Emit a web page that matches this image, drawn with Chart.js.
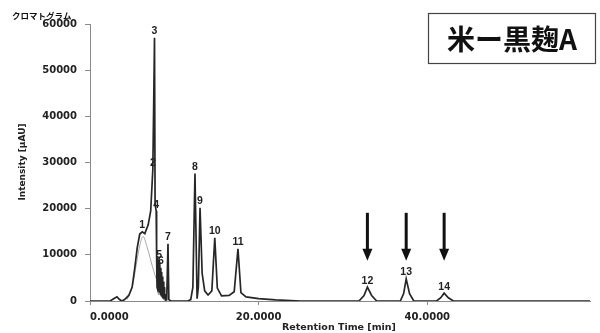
<!DOCTYPE html>
<html>
<head>
<meta charset="utf-8">
<script src="https://cdn.jsdelivr.net/npm/chart.js@4.4.1/dist/chart.umd.min.js"></script>
<style>
  html, body { margin: 0; padding: 0; background: #fff; }
  #wrap { width: 600px; height: 333px; }
</style>
</head>
<body>
<div id="wrap"><canvas id="chromChart" width="600" height="333"></canvas></div>
<script>
// Chromatogram trace: retention time (min) and intensity (uAU)
const retentionTimes = [0, 2.4, 2.8, 3.2, 3.5, 3.8, 4.1, 4.6, 5.0, 5.3, 5.6, 5.9, 6.2, 6.5, 6.9, 7.2,
    7.45, 7.55, 7.65, 7.72, 7.85, 7.9, 7.95, 8.0, 8.05, 8.1, 8.15, 8.2, 8.25, 8.3, 8.35, 8.4, 8.45,
    8.5, 8.55, 8.6, 8.65, 8.7, 8.75, 8.8, 8.85, 8.9, 8.95, 9.1, 9.25, 9.35, 9.6, 11.6, 11.95, 12.2,
    12.45, 12.7, 12.85, 13.05, 13.3, 13.6, 14.0, 14.45, 14.8, 15.1, 15.6, 16.5, 17.1, 17.55, 17.9,
    18.5, 20.0, 22.0, 25.0, 31.9, 32.5, 32.9, 33.4, 34.0, 36.8, 37.2, 37.5, 37.9, 38.4, 41.1, 41.6,
    42.0, 42.5, 43.1, 59.3];
const intensities = [0, 0, 500, 900, 300, 0, 300, 1200, 3000, 7000, 11500, 14500, 15000, 14600, 16500, 19500,
    28500, 42000, 57000, 21000, 19500, 10000, 3000, 9500, 2500, 9000, 2000, 8500, 1800, 8000, 1500, 7200, 1200,
    6300, 1000, 5300, 800, 4200, 600, 3000, 400, 1500, 200, 300, 12400, 300, 0, 0, 300, 3000,
    27600, 500, 3000, 20200, 6000, 2200, 1300, 2200, 13700, 2800, 1100, 1200, 2000, 11300, 1800,
    900, 500, 250, 0, 0, 1200, 3000, 1200, 0, 0, 1600, 4800, 1600, 0, 0, 700,
    1700, 700, 0, 0];

// Fitted curve under peak 1 (light grey)
const fitTimes = [4.4, 5.0, 5.5, 5.9, 6.3, 6.8, 7.4, 8.0, 8.5, 8.9, 9.2];
const fitIntensities = [300, 3000, 8000, 12000, 14000, 11500, 7500, 4000, 1500, 300, 0];

// Numbered peaks
const peakNumbers = ['1', '2', '3', '4', '5', '6', '7', '8', '9', '10', '11', '12', '13', '14'];
const peakTimes = [6.2, 7.45, 7.65, 7.85, 8.2, 8.4, 9.25, 12.45, 13.05, 14.8, 17.55, 32.9, 37.5, 42.0];

// Arrows pointing at the marked peaks
const arrowTimes = [32.9, 37.5, 42.0];

// Axis ticks
const xTickValues = [0, 20, 40];
const yTickValues = [0, 10000, 20000, 30000, 40000, 50000, 60000];
const X_MAX = 59.3;

let chromChart;

function traceAt(t) {
    for (let i = 1; i < retentionTimes.length; i++) {
        if (t <= retentionTimes[i]) {
            const t0 = retentionTimes[i - 1], t1 = retentionTimes[i];
            const f = (t - t0) / (t1 - t0);
            return intensities[i - 1] + f * (intensities[i] - intensities[i - 1]);
        }
    }
    return 0;
}

const decorPlugin = {
    id: 'chromDecor',
    afterDatasetsDraw(chart) {
        const { ctx, scales: { x, y } } = chart;
        ctx.save();

        // peak numbers sit just above the trace
        ctx.font = 'bold 10.5px "Liberation Sans"';
        ctx.fillStyle = '#222';
        ctx.textAlign = 'center';
        ctx.textBaseline = 'bottom';
        peakNumbers.forEach((n, i) => {
            const t = peakTimes[i];
            ctx.fillText(n, x.getPixelForValue(t), y.getPixelForValue(traceAt(t)) - 1);
        });

        // arrows
        ctx.fillStyle = '#111';
        arrowTimes.forEach(t => {
            const px = x.getPixelForValue(t);
            const top = y.getPixelForValue(19100);
            const tip = y.getPixelForValue(8700);
            ctx.fillRect(px - 1.5, top, 3, tip - top - 10);
            ctx.beginPath();
            ctx.moveTo(px - 5, tip - 12);
            ctx.lineTo(px + 5, tip - 12);
            ctx.lineTo(px, tip);
            ctx.closePath();
            ctx.fill();
        });
        ctx.restore();
    },
    afterDraw(chart) {
        const ctx = chart.ctx;
        ctx.save();
        ctx.fillStyle = '#111';

        // top-left caption
        ctx.font = 'bold 8.5px "Noto Sans CJK JP"';
        ctx.textAlign = 'left';
        ctx.textBaseline = 'middle';
        ctx.fillText('クロマトグラム', 12, 16);

        // sample name box
        ctx.strokeStyle = '#444';
        ctx.lineWidth = 1.2;
        ctx.strokeRect(428.5, 13.5, 167, 50);
        ctx.font = 'bold 28px "Noto Sans CJK JP"';
        ctx.textAlign = 'center';
        ctx.fillText('米ー黒麹A', 512, 39);

        // axis titles
        ctx.font = 'bold 9.5px "DejaVu Sans"';
        ctx.fillStyle = '#222';
        ctx.fillText('Retention Time [min]', 339, 328);

        ctx.translate(23, 162);
        ctx.rotate(-Math.PI / 2);
        ctx.font = 'bold 9px "DejaVu Sans"';
        ctx.fillText('Intensity [μAU]', 0, 0);
        ctx.restore();
    }
};

function initChart() {
    const ctx = document.getElementById('chromChart').getContext('2d');
    chromChart = new Chart(ctx, {
        type: 'line',
        data: {
            datasets: [
                {
                    label: 'Chromatogram',
                    data: retentionTimes.map((t, i) => ({ x: t, y: intensities[i] })),
                    borderColor: '#262626',
                    borderWidth: 1.7,
                    pointRadius: 0,
                    tension: 0,
                    fill: false
                },
                {
                    label: 'Peak 1 fit',
                    data: fitTimes.map((t, i) => ({ x: t, y: fitIntensities[i] })),
                    borderColor: '#a8a8a8',
                    borderWidth: 1,
                    pointRadius: 0,
                    tension: 0.3,
                    fill: false
                }
            ]
        },
        options: {
            responsive: false,
            devicePixelRatio: 1,
            animation: false,
            layout: { padding: { top: 24, right: 10, left: 0, bottom: 0 } },
            plugins: {
                legend: { display: false },
                tooltip: { enabled: false }
            },
            scales: {
                x: {
                    type: 'linear',
                    min: 0,
                    max: X_MAX,
                    afterBuildTicks: scale => {
                        scale.ticks = xTickValues.concat([X_MAX]).map(v => ({ value: v }));
                    },
                    afterFit: scale => { scale.height = 32; },
                    border: { color: '#8a8a8a', width: 1 },
                    grid: {
                        drawOnChartArea: false,
                        tickLength: 4,
                        tickColor: c => xTickValues.includes(c.tick.value) ? '#8a8a8a' : 'rgba(0,0,0,0)'
                    },
                    ticks: {
                        align: 'inner',
                        maxRotation: 0,
                        padding: 6,
                        color: '#222',
                        font: { family: 'DejaVu Sans', size: 10, weight: 'bold' },
                        callback: v => xTickValues.includes(v) ? v.toFixed(4) : ''
                    }
                },
                y: {
                    min: 0,
                    max: 60000,
                    afterBuildTicks: scale => {
                        scale.ticks = yTickValues.map(v => ({ value: v }));
                    },
                    afterFit: scale => { scale.width = 90; },
                    border: { color: '#8a8a8a', width: 1 },
                    grid: { drawOnChartArea: false, tickLength: 5, color: '#8a8a8a' },
                    ticks: {
                        padding: 8,
                        color: '#222',
                        font: { family: 'DejaVu Sans', size: 10, weight: 'bold' },
                        callback: v => String(v)
                    }
                }
            }
        },
        plugins: [decorPlugin]
    });
}

window.addEventListener('load', initChart);
</script>
</body>
</html>
